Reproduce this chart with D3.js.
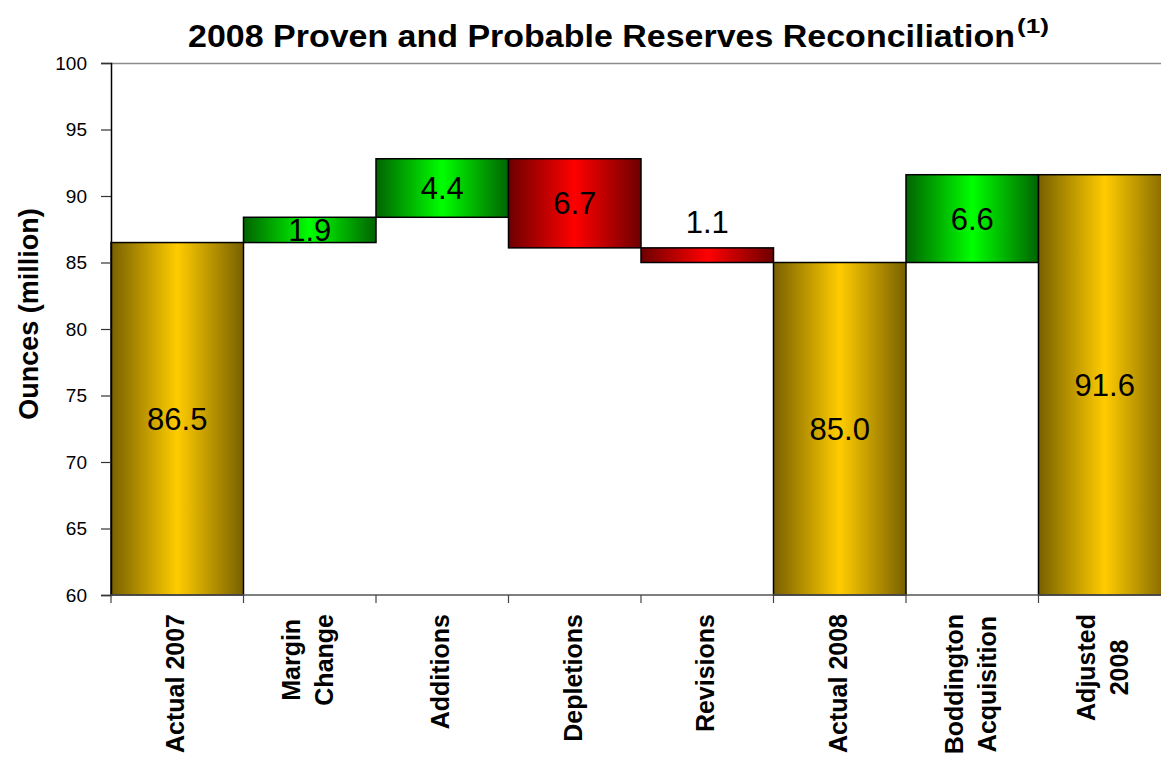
<!DOCTYPE html>
<html>
<head>
<meta charset="utf-8">
<script src="https://cdn.jsdelivr.net/npm/d3@7/dist/d3.min.js"></script>
<style>
  body { margin: 0; background: #fff; overflow: hidden; }
  text { font-family: "Liberation Sans", Arial, sans-serif; }
</style>
</head>
<body>
<div id="chart"></div>
<script>
// waterfall data
const categories = [
  ["Actual 2007"],
  ["Margin", "Change"],
  ["Additions"],
  ["Depletions"],
  ["Revisions"],
  ["Actual 2008"],
  ["Boddington", "Acquisition"],
  ["Adjusted", "2008"]
];
const values = [86.5, 1.9, 4.4, -6.7, -1.1, 85.0, 6.6, 91.6];
const kinds = ["total", "step", "step", "step", "step", "total", "step", "total"];
const yTicks = [60, 65, 70, 75, 80, 85, 90, 95, 100];

const width = 1161;
const height = 759;
// plot area runs a little past the right edge of the picture
const margin = { top: 63, left: 111, bottom: 164, right: -10 };
const plotWidth = width - margin.left - margin.right;
const plotHeight = height - margin.top - margin.bottom;

// running totals -> bar extents
let running = 0;
const bars = values.map((v, i) => {
  let lo, hi;
  if (kinds[i] === "total") {
    running = v;
    lo = 60; hi = v;
  } else {
    lo = Math.min(running, running + v);
    hi = Math.max(running, running + v);
    running = running + v;
  }
  const fill = kinds[i] === "total" ? "gold" : (v >= 0 ? "green" : "red");
  return { i, v, lo, hi, fill };
});

const svg = d3.select("#chart").append("svg")
  .attr("width", width)
  .attr("height", height);

const defs = svg.append("defs");
const grads = {
  gold: ["#786000", "#ffcc00"],
  green: ["#006400", "#00ff00"],
  red: ["#6e0000", "#ff0000"]
};
Object.entries(grads).forEach(([name, [edge, mid]]) => {
  const g = defs.append("linearGradient").attr("id", "g-" + name)
    .attr("x1", "0%").attr("x2", "100%").attr("y1", "0%").attr("y2", "0%");
  g.append("stop").attr("offset", "0%").attr("stop-color", edge);
  g.append("stop").attr("offset", "50%").attr("stop-color", mid);
  g.append("stop").attr("offset", "100%").attr("stop-color", edge);
});

const yScale = d3.scaleLinear().domain([60, 100]).range([plotHeight, 0]);
const xScale = d3.scaleBand()
  .domain(d3.range(categories.length))
  .range([0, plotWidth])
  .padding(0);

const plotG = svg.append("g")
  .attr("transform", `translate(${margin.left},${margin.top})`);

// top border line
plotG.append("line")
  .attr("x1", 0).attr("x2", plotWidth)
  .attr("y1", 0.5).attr("y2", 0.5)
  .attr("stroke", "#8c8c8c").attr("stroke-width", 1.5);

plotG.selectAll("rect.bar")
  .data(bars)
  .enter()
  .append("rect")
  .attr("class", "bar")
  .attr("x", d => xScale(d.i))
  .attr("width", xScale.bandwidth())
  .attr("y", d => yScale(d.hi))
  .attr("height", d => yScale(d.lo) - yScale(d.hi))
  .attr("fill", d => `url(#g-${d.fill})`)
  .attr("stroke", "#000")
  .attr("stroke-width", 1.5);

// value labels (thin bars get the label above)
plotG.selectAll("text.val")
  .data(bars)
  .enter()
  .append("text")
  .attr("class", "val")
  .attr("x", d => xScale(d.i) + xScale.bandwidth() / 2)
  .attr("y", d => {
    const h = yScale(d.lo) - yScale(d.hi);
    if (h < 22) return yScale(d.hi) - 15;
    return (yScale(d.lo) + yScale(d.hi)) / 2 + 11;
  })
  .attr("text-anchor", "middle")
  .attr("font-size", 31)
  .attr("fill", "#000")
  .text(d => Math.abs(d.v).toFixed(1));

// y axis
const yAxis = d3.axisLeft(yScale).tickValues(yTicks).tickSize(10).tickPadding(14);
const yAxisG = svg.append("g")
  .attr("transform", `translate(${margin.left},${margin.top})`)
  .call(yAxis);
yAxisG.select(".domain").attr("stroke", "#000").attr("stroke-width", 1.5);
yAxisG.selectAll(".tick line").attr("stroke", "#333").attr("stroke-width", 1.2);
yAxisG.selectAll(".tick text")
  .attr("font-size", 19)
  .attr("font-family", "Liberation Sans, Arial, sans-serif")
  .attr("fill", "#000");

// x axis: ticks at category boundaries
const xAxisG = svg.append("g")
  .attr("transform", `translate(${margin.left},${margin.top + plotHeight})`);
xAxisG.append("line")
  .attr("x1", 0).attr("x2", plotWidth)
  .attr("stroke", "#555").attr("stroke-width", 1.5);
xAxisG.selectAll("line.tk")
  .data(d3.range(categories.length + 1))
  .enter()
  .append("line")
  .attr("class", "tk")
  .attr("x1", i => i * xScale.step())
  .attr("x2", i => i * xScale.step())
  .attr("y1", 0).attr("y2", 8)
  .attr("stroke", "#444").attr("stroke-width", 1.2);

// rotated category labels, top of block at y=614
const labelTop = 614;
const lineGap = 33;
categories.forEach((lines, i) => {
  const cx = margin.left + xScale(i) + xScale.bandwidth() / 2;
  const g = svg.append("g");
  const texts = lines.map((ln, k) => {
    const off = (k - (lines.length - 1) / 2) * lineGap;
    return g.append("text")
      .attr("font-size", 25)
      .attr("font-weight", "bold")
      .attr("text-anchor", "middle")
      .attr("fill", "#000")
      .attr("data-off", off)
      .text(ln);
  });
  const blockLen = d3.max(texts, t => t.node().getComputedTextLength());
  const cy = labelTop + blockLen / 2;
  texts.forEach(t => {
    const off = +t.attr("data-off");
    t.attr("transform", `translate(${cx + off + 7},${cy}) rotate(-90)`);
  });
});

// y axis title
svg.append("text")
  .attr("transform", "translate(38,314) rotate(-90)")
  .attr("text-anchor", "middle")
  .attr("font-size", 27)
  .attr("font-weight", "bold")
  .text("Ounces (million)");

// chart title
const title = svg.append("text")
  .attr("x", 188)
  .attr("y", 47)
  .attr("font-size", 31)
  .attr("font-weight", "bold");
title.append("tspan")
  .attr("textLength", 827)
  .attr("lengthAdjust", "spacingAndGlyphs")
  .text("2008 Proven and Probable Reserves Reconciliation");
title.append("tspan")
  .attr("font-size", 20)
  .attr("dy", -14)
  .attr("dx", 2)
  .attr("textLength", 32)
  .attr("lengthAdjust", "spacingAndGlyphs")
  .text("(1)");
</script>
</body>
</html>
